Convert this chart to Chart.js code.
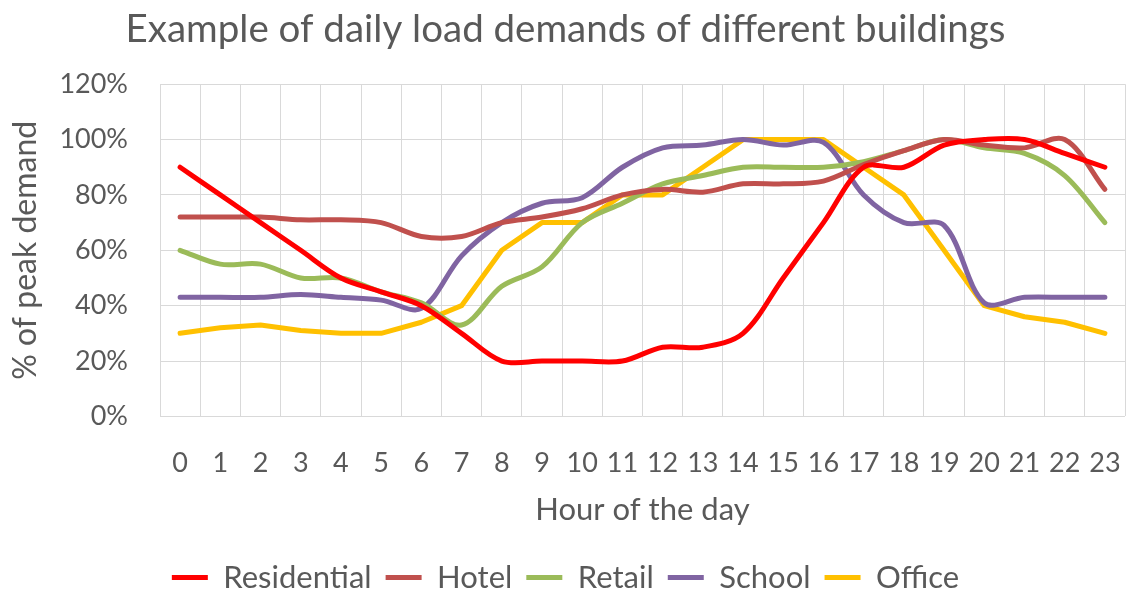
<!DOCTYPE html>
<html>
<head>
<meta charset="utf-8">
<script src="https://cdn.jsdelivr.net/npm/chart.js@4/dist/chart.umd.min.js"></script>
<style>
    html, body { margin: 0; padding: 0; background: #fff; }
    #wrap { width: 1128px; height: 594px; }
</style>
</head>
<body>
<div id="wrap"><canvas id="loadChart" width="1128" height="594"></canvas></div>
<script>
// hours of the day
const hours = ['0','1','2','3','4','5','6','7','8','9','10','11','12','13','14','15','16','17','18','19','20','21','22','23'];

// share of peak demand, in %
const residential = [90, 80, 70, 60, 50, 45, 40, 30, 20, 20, 20, 20, 25, 25, 30, 50, 70, 90, 90, 98, 100, 100, 95, 90];
const hotel       = [72, 72, 72, 71, 71, 70, 65, 65, 70, 72, 75, 80, 82, 81, 84, 84, 85, 91, 96, 100, 98, 97, 100, 82];
const retail      = [60, 55, 55, 50, 50, 45, 41, 33, 47, 54, 70, 77, 84, 87, 90, 90, 90, 92, 96, 100, 97, 95, 87, 70];
const school      = [43, 43, 43, 44, 43, 42, 39, 58, 70, 77, 79, 90, 97, 98, 100, 98, 99, 80, 70, 69, 41, 43, 43, 43];
const office      = [30, 32, 33, 31, 30, 30, 34, 40, 60, 70, 70, 80, 80, 90, 100, 100, 100, 90, 80, 60, 40, 36, 34, 30];

const textColor = '#595959';
const fontName = 'Lato, "Open Sans", sans-serif';

function series(label, data, color, smooth) {
    return {
        label: label,
        data: data,
        borderColor: color,
        backgroundColor: color,
        borderWidth: 5,
        pointRadius: 0,
        tension: smooth ? 0.33 : 0,
        borderCapStyle: 'round',
        borderJoinStyle: 'round',
        fill: false
    };
}

const ctx = document.getElementById('loadChart').getContext('2d');

new Chart(ctx, {
    type: 'line',
    data: {
        labels: hours,
        datasets: [
            series('Residential', residential, '#FF0000', true),
            series('Hotel', hotel, '#C0504D', true),
            series('Retail', retail, '#9BBB59', true),
            series('School', school, '#8064A2', true),
            series('Office', office, '#FFC000', false)
        ]
    },
    options: {
        responsive: false,
        animation: false,
        layout: {
            padding: { left: 6, right: 3, top: 0, bottom: -9 }
        },
        scales: {
            x: {
                offset: true,
                grid: {
                    offset: true,
                    color: '#D9D9D9',
                    lineWidth: 1,
                    drawTicks: true,
                    tickLength: 28,
                    tickColor: 'rgba(0,0,0,0)'
                },
                border: { display: false },
                ticks: {
                    autoSkip: false,
                    maxRotation: 0,
                    padding: 3,
                    color: textColor,
                    font: { family: fontName, size: 27 }
                },
                title: {
                    display: true,
                    text: 'Hour of the day',
                    color: textColor,
                    font: { family: fontName, size: 31 },
                    padding: { top: 9, bottom: 19 }
                }
            },
            y: {
                min: 0,
                max: 120,
                grid: {
                    color: '#D9D9D9',
                    lineWidth: 1,
                    drawTicks: false
                },
                border: { display: false },
                ticks: {
                    stepSize: 20,
                    padding: 32,
                    color: textColor,
                    font: { family: fontName, size: 27 },
                    callback: function(value) {
                        return value + '%';
                    }
                },
                title: {
                    display: true,
                    text: '% of peak demand',
                    color: textColor,
                    font: { family: fontName, size: 32 },
                    padding: { top: 0, bottom: 4 }
                },
                afterFit: function(scale) {
                    scale.width = 154;
                }
            }
        },
        plugins: {
            title: {
                display: true,
                text: 'Example of daily load demands of different buildings',
                color: textColor,
                font: { family: fontName, size: 38.5, weight: 'normal' },
                padding: { top: 6, bottom: 32 }
            },
            legend: {
                display: true,
                position: 'bottom',
                labels: {
                    color: textColor,
                    font: { family: fontName, size: 31 },
                    boxWidth: 36,
                    boxHeight: 5,
                    padding: 14,
                    generateLabels: function(chart) {
                        const items = Chart.defaults.plugins.legend.labels.generateLabels(chart);
                        items.forEach(function(item) {
                            item.fillStyle = item.strokeStyle;
                            item.lineWidth = 0;
                        });
                        return items;
                    }
                }
            },
            tooltip: { enabled: false }
        }
    }
});
</script>
</body>
</html>
